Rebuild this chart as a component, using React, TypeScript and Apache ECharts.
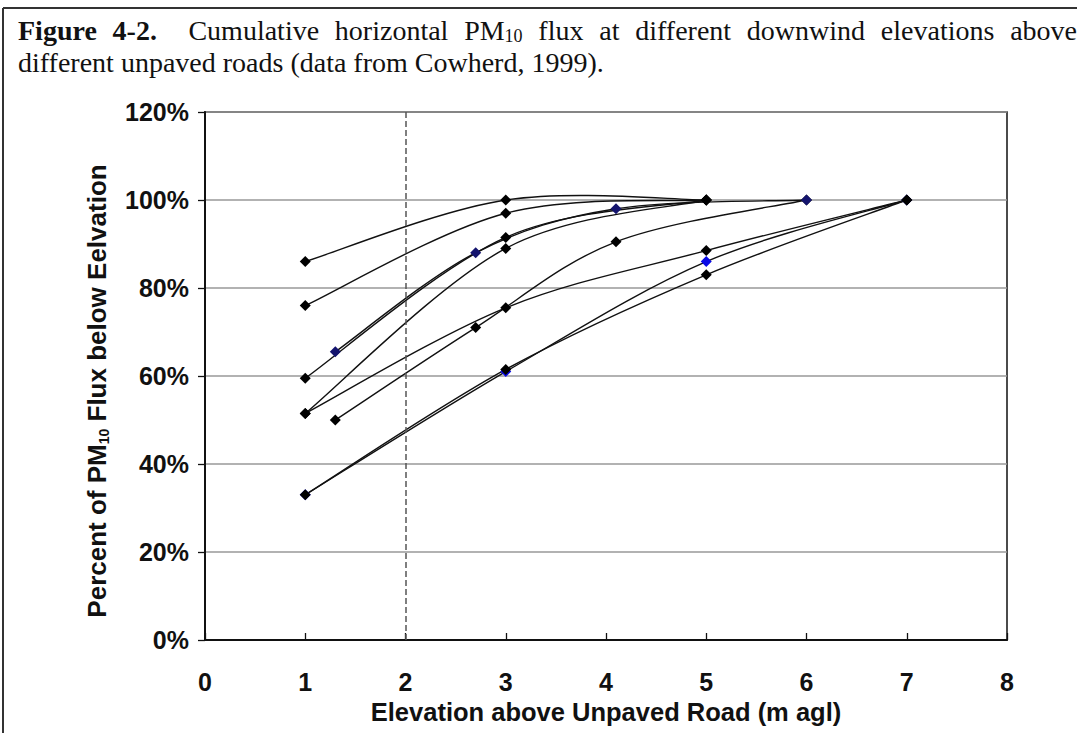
import React, { useEffect, useRef } from "react";
import * as echarts from "echarts";

// Elevation (m agl) sets used by the different roads
const heightsA = [1, 3, 5];
const heightsB = [1.3, 2.7, 4.1, 6];
const heightsC = [1, 3, 5, 7];

// Cumulative PM10 flux (%) below each elevation
const road1 = [86, 100, 100];
const road2 = [76, 97, 100];
const road3 = [59.5, 91.5, 100];
const road4 = [51.5, 89, 100];
const road5 = [65.5, 88, 98, 100];
const road6 = [50, 71, 90.5, 100];
const road7 = [51.5, 75.5, 88.5, 100];
const road8 = [33, 61.5, 83, 100];
const road9 = [33, 61, 86, 100];

const yTicks = [0, 20, 40, 60, 80, 100, 120];
const xTicks = [0, 1, 2, 3, 4, 5, 6, 7, 8];
const referenceElevation = 2;

const titleLine1 = [
  { t: "Figure", bold: true, gap: 1 },
  { t: "4-2.", bold: true, gap: 2 },
  { t: "Cumulative", gap: 1 },
  { t: "horizontal", gap: 1 },
  { t: "PM", sub: "10", gap: 1 },
  { t: "flux", gap: 1 },
  { t: "at", gap: 1 },
  { t: "different", gap: 1 },
  { t: "downwind", gap: 1 },
  { t: "elevations", gap: 1 },
  { t: "above", gap: 0 },
];
const titleLine2 = "different unpaved roads (data from Cowherd, 1999).";

const zip = (xs: number[], ys: number[]) => xs.map((x, i) => [x, ys[i]]);

export default function App() {
  const ref = useRef<HTMLDivElement>(null);

  useEffect(() => {
    if (!ref.current) return;
    const chart = echarts.init(ref.current, undefined, { renderer: "svg" });

    const serif = '"Liberation Serif", "Times New Roman", serif';
    const sans = '"Liberation Sans", Arial, sans-serif';
    const tSize = 28;
    const subSize = 18;
    const canvas = document.createElement("canvas");
    const ctx = canvas.getContext("2d")!;
    const measure = (s: string, size: number, bold?: boolean) => {
      ctx.font = `${bold ? "bold " : ""}${size}px ${serif}`;
      return ctx.measureText(s).width;
    };
    const startX = 18;
    const endX = 1077;
    const widths = titleLine1.map(
      (tk: any) => measure(tk.t, tSize, tk.bold) + (tk.sub ? measure(tk.sub, subSize) : 0)
    );
    const totalW = widths.reduce((a, b) => a + b, 0);
    const gapUnits = titleLine1.reduce((a, tk) => a + tk.gap, 0);
    const gap = (endX - startX - totalW) / gapUnits;
    let cx = startX;
    const line1Y = 30;
    const titleEls: any[] = titleLine1.map((tk: any, i) => {
      const el: any = {
        type: "text",
        x: cx,
        y: line1Y,
        style: tk.sub
          ? {
              text: `{a|${tk.t}}{s|${tk.sub}}`,
              verticalAlign: "middle",
              rich: {
                a: { fontFamily: serif, fontSize: tSize, fill: "#111", lineHeight: 30 },
                s: { fontFamily: serif, fontSize: subSize, fill: "#111", lineHeight: 12, verticalAlign: "bottom" },
              },
            }
          : {
              text: tk.t,
              fontFamily: serif,
              fontSize: tSize,
              fontWeight: tk.bold ? "bold" : "normal",
              fill: "#111",
              verticalAlign: "middle",
            },
      };
      cx += widths[i] + gap * tk.gap;
      return el;
    });

    // Excel-like smoothed curve: cubic Bezier segments between measured points
    const curve = (name: string, xs: number[], ys: number[]) => ({
      type: "custom",
      name,
      coordinateSystem: "cartesian2d",
      data: zip(xs, ys),
      encode: { x: 0, y: 1 },
      z: 2,
      silent: true,
      renderItem: (params: any, api: any) => {
        const i = params.dataIndex;
        const n = xs.length;
        if (i >= n - 1) return { type: "group", children: [] };
        const P = (k: number) => {
          const kk = Math.max(0, Math.min(n - 1, k));
          return api.coord([xs[kk], ys[kk]]);
        };
        const p0 = P(i - 1);
        const p1 = P(i);
        const p2 = P(i + 1);
        const p3 = P(i + 2);
        const t = 1 / 6;
        return {
          type: "bezierCurve",
          shape: {
            x1: p1[0],
            y1: p1[1],
            cpx1: p1[0] + (p2[0] - p0[0]) * t,
            cpy1: p1[1] + (p2[1] - p0[1]) * t,
            cpx2: p2[0] - (p3[0] - p1[0]) * t,
            cpy2: p2[1] - (p3[1] - p1[1]) * t,
            x2: p2[0],
            y2: p2[1],
          },
          style: { stroke: "#111", lineWidth: 1.4, fill: "none" },
        };
      },
    });

    const pts = (name: string, xs: number[], ys: number[], color: string, z: number, extra: any = {}) => ({
      type: "scatter",
      name,
      data: zip(xs, ys),
      symbol: "diamond",
      symbolSize: 11,
      itemStyle: { color, opacity: 1 },
      z,
      ...extra,
    });

    chart.setOption({
      animation: false,
      backgroundColor: "#fff",
      grid: {
        left: 205,
        right: 70,
        top: 112,
        bottom: 93,
        show: true,
        borderColor: "#111",
        borderWidth: 1.5,
        backgroundColor: "transparent",
      },
      xAxis: {
        type: "value",
        min: xTicks[0],
        max: xTicks[xTicks.length - 1],
        interval: 1,
        axisLine: { show: true, onZero: false, lineStyle: { color: "#111", width: 2 } },
        axisTick: { show: true, inside: true, length: 7, lineStyle: { color: "#111", width: 1.3 } },
        splitLine: { show: false },
        axisLabel: {
          margin: 29,
          fontFamily: sans,
          fontSize: 25,
          fontWeight: "bold",
          color: "#111",
        },
        name: "Elevation above Unpaved Road (m agl)",
        nameLocation: "middle",
        nameGap: 57,
        nameTextStyle: { fontFamily: sans, fontSize: 25.5, fontWeight: "bold", color: "#111" },
      },
      yAxis: {
        type: "value",
        min: yTicks[0],
        max: yTicks[yTicks.length - 1],
        interval: 20,
        axisLine: { show: true, lineStyle: { color: "#111", width: 2 } },
        axisTick: { show: true, inside: false, length: 7, lineStyle: { color: "#111", width: 1.3 } },
        splitLine: { show: true, lineStyle: { color: "#999", width: 1.5 } },
        axisLabel: {
          margin: 16,
          formatter: (v: number) => `${v}%`,
          fontFamily: sans,
          fontSize: 25,
          fontWeight: "bold",
          color: "#111",
        },
        name: "{a|Percent of PM}{s|10}{a| Flux below Eelvation}",
        nameLocation: "middle",
        nameGap: 94,
        nameRotate: 90,
        nameTextStyle: {
          padding: [0, 30, 0, 0],
          rich: {
            a: { fontFamily: sans, fontSize: 26, fontWeight: "bold", color: "#111", lineHeight: 28 },
            s: { fontFamily: sans, fontSize: 14, fontWeight: "bold", color: "#111", lineHeight: 8, verticalAlign: "bottom" },
          },
        },
      },
      graphic: [
        { type: "line", shape: { x1: 3, y1: 8, x2: 1077, y2: 8 }, style: { stroke: "#333", lineWidth: 2 } },
        { type: "line", shape: { x1: 3, y1: 8, x2: 3, y2: 733 }, style: { stroke: "#333", lineWidth: 2 } },
        ...titleEls,
        {
          type: "text",
          x: startX,
          y: 62,
          style: { text: titleLine2, fontFamily: serif, fontSize: tSize, fill: "#111", verticalAlign: "middle" },
        },
      ],
      series: [
        curve("Road 1", heightsA, road1),
        curve("Road 2", heightsA, road2),
        curve("Road 3", heightsA, road3),
        curve("Road 4", heightsA, road4),
        curve("Road 5", heightsB, road5),
        curve("Road 6", heightsB, road6),
        curve("Road 7", heightsC, road7),
        curve("Road 8", heightsC, road8),
        curve("Road 9", heightsC, road9),
        pts("Road 1", heightsA, road1, "#000", 5, {
          markLine: {
            silent: true,
            symbol: ["none", "none"],
            label: { show: false },
            lineStyle: { type: "dashed", color: "#555", width: 1.5 },
            data: [{ xAxis: referenceElevation }],
          },
        }),
        pts("Road 2", heightsA, road2, "#000", 5),
        pts("Road 3", heightsA, road3, "#000", 5),
        pts("Road 4", heightsA, road4, "#000", 5),
        pts("Road 5", heightsB, road5, "#14146e", 6),
        pts("Road 6", heightsB, road6, "#000", 5),
        pts("Road 7", heightsC, road7, "#000", 5),
        pts("Road 9", heightsC, road9, "#0a0ae6", 4),
        pts("Road 8", heightsC, road8, "#000", 5),
      ],
    });

    return () => chart.dispose();
  }, []);

  return (
    <div
      ref={ref}
      style={{ position: "fixed", left: 0, top: 0, width: 1077, height: 733, background: "#fff" }}
    />
  );
}
